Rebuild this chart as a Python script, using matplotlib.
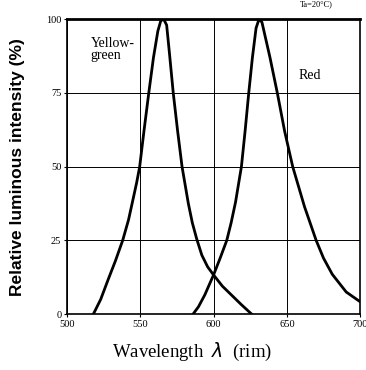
import numpy as np
import matplotlib
matplotlib.use("Agg")
import matplotlib.pyplot as plt

# values
yg_nm = [518, 523, 528, 533, 538, 542, 545, 547.5, 549.6, 552.5, 555.8, 559, 562, 564, 566,
         568, 570, 572.5, 575.5, 578.5, 582.8, 585.5, 588.5, 592, 596, 600, 606, 612.6, 619, 626]
yg_val = [0, 5, 11.6, 18, 25, 32, 38.8, 44.5, 50, 62, 75, 87, 96, 99.5, 100,
          98, 88, 75, 62, 50, 37.5, 31, 25.5, 20, 16, 13.3, 9.5, 6.3, 3.2, 0]

red_nm = [586, 589.7, 594, 600, 604.5, 609, 612, 615, 619, 621.5, 624, 626.5, 629, 631, 633,
          638.5, 643.5, 648.5, 654, 662, 670, 675, 681, 690.5, 700]
red_val = [0, 2.5, 6.5, 13.3, 19, 25, 31, 38, 50, 62, 75, 87, 97, 100, 99,
           87, 75, 62, 50, 36.5, 25, 19, 13.5, 7.5, 4.2]

x_ticks = [500, 550, 600, 650, 700]
y_ticks = [0, 25, 50, 75, 100]

fig = plt.figure(figsize=(3.66, 3.70), dpi=100)
ax = fig.add_axes([0.183, 0.151, 0.801, 0.797])

ax.plot(yg_nm, yg_val, color="black", lw=2.0, solid_joinstyle="round")
ax.plot(red_nm, red_val, color="black", lw=2.0, solid_joinstyle="round")

ax.set_xlim(500, 700)
ax.set_ylim(0, 100)
ax.set_xticks(x_ticks)
ax.set_yticks(y_ticks)
ax.grid(True, color="black", lw=0.7)
ax.tick_params(direction="out", length=2, width=0.8, labelsize=7.5, pad=2)
for lab in ax.get_xticklabels() + ax.get_yticklabels():
    lab.set_family("Liberation Serif")
for s in ax.spines.values():
    s.set_linewidth(1.2)
ax.spines["top"].set_linewidth(2)

ax.text(0.08, 0.94, "Yellow-\ngreen", transform=ax.transAxes, ha="left", va="top",
        family="Liberation Serif", fontsize=10, linespacing=0.95)
ax.text(0.79, 0.83, "Red", transform=ax.transAxes, ha="left", va="top",
        family="Liberation Serif", fontsize=10)

ax.set_ylabel("Relative luminous intensity (%)", family="Liberation Sans",
              fontweight="bold", fontsize=12.5, labelpad=15)
fig.text(0.525, 0.018, "Wavelength  $\\lambda$  (rim)", ha="center", va="bottom",
         family="Liberation Serif", fontsize=13.5)
fig.text(0.82, 1.0, "Ta=20°C)", ha="left", va="top",
         family="Liberation Serif", fontsize=6)

fig.savefig("out.png", dpi=100)
